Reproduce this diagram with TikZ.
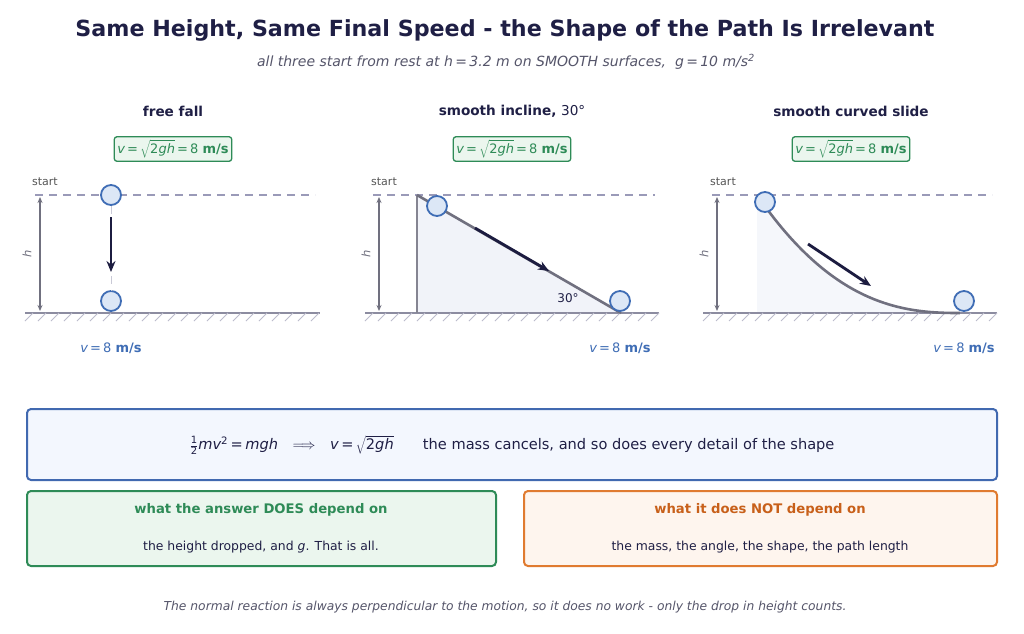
\documentclass[tikz,border=0pt]{standalone}
\usepackage{fontspec}
\setmainfont{DejaVu Sans}
\usetikzlibrary{arrows.meta}
\definecolor{titlec}{HTML}{1F1F45}
\definecolor{subc}{HTML}{55556A}
\definecolor{navy}{HTML}{1C1C40}
\definecolor{ballfill}{HTML}{DCE7F6}
\definecolor{ballline}{HTML}{3F6DB5}
\definecolor{groundc}{HTML}{8C8CA0}
\definecolor{hatchc}{HTML}{BCBCCC}
\definecolor{dashc}{HTML}{9A9AB8}
\definecolor{hc}{HTML}{70707F}
\definecolor{slopec}{HTML}{70707F}
\definecolor{inclfill}{HTML}{F1F3F9}
\definecolor{greenc}{HTML}{2E8B57}
\definecolor{greenfill}{HTML}{EBF6EE}
\definecolor{bluebox}{HTML}{4169B0}
\definecolor{bluefill}{HTML}{F3F7FE}
\definecolor{orangec}{HTML}{E07B30}
\definecolor{orangetxt}{HTML}{C8601A}
\definecolor{orangefill}{HTML}{FEF5EE}
\definecolor{vblue}{HTML}{3F6DB5}
\definecolor{graytxt}{HTML}{555555}
\tikzset{
  paneltitle/.style={font=\bfseries\fontsize{13.6}{16}\selectfont, text=titlec},
  fbox/.style={draw=greenc, fill=greenfill, line width=1.3pt, rounded corners=2.5pt, text=greenc, font=\fontsize{13}{15}\selectfont, inner sep=3pt, minimum height=24pt},
  dashln/.style={draw=dashc, line width=1.3pt, dash pattern=on 8pt off 6pt},
  startlbl/.style={font=\fontsize{11}{13}\selectfont, text=graytxt},
  groundln/.style={draw=groundc, line width=2pt},
  hatchln/.style={draw=hatchc, line width=1pt},
  harrow/.style={draw=hc, line width=1.4pt, {Stealth[length=6pt,width=5pt]}-{Stealth[length=6pt,width=5pt]}},
  hlbl/.style={font=\itshape\fontsize{11.5}{13}\selectfont, text=hc, rotate=90},
  ball/.style={circle, draw=ballline, fill=ballfill, line width=1.8pt, minimum size=20pt, inner sep=0pt},
  motion/.style={draw=navy, line width=2.8pt, -{Stealth[length=11pt,width=9pt]}},
  vlbl/.style={font=\fontsize{13}{15}\selectfont, text=vblue},
  faint/.style={draw=hatchc!80, line width=1pt, dash pattern=on 8pt off 6pt},
  bigbox/.style={rounded corners=4pt, line width=2pt},
}
\newcommand{\vform}{{\itshape v}\,=\,$\sqrt{\mbox{2\itshape gh}}$\,=\,8 \textbf{m/s}}
\newcommand{\vend}{{\itshape v}\,=\,8 \textbf{m/s}}
\newcommand{\halfdj}{$\frac{\mbox{\fontsize{10}{10}\selectfont 1}}{\mbox{\fontsize{10}{10}\selectfont 2}}$}
\begin{document}
\begin{tikzpicture}[x=1pt,y=-1pt]
\useasboundingbox (0,0) rectangle (1024,633);
\fill[white] (0,0) rectangle (1024,633);
\node[font=\bfseries\fontsize{22.2}{26}\selectfont, text=titlec] (title) at (505,30) {Same Height, Same Final Speed - the Shape of the Path Is Irrelevant};
\node[font=\itshape\fontsize{14}{16}\selectfont, text=subc] (sub) at (506,62) {all three start from rest at h\,=\,3.2 m on SMOOTH surfaces,\ \ g\,=\,10 m/s\textsuperscript{2}};

% panel 1
\begin{scope}[name prefix=a-]
\node[paneltitle] (t) at (173,111) {free fall};
\node[fbox] (f) at (173,149) {\vform};
\draw[dashln] (35,195) -- (315,195);
\node[startlbl] (st) at (45,182) {start};
\draw[groundln] (25,313) -- (320,313);
\foreach \i in {0,...,22} {\draw[hatchln] ({33+13*\i},313) -- ({25+13*\i},321);}
\coordinate (ht) at (40,197); \coordinate (hb) at (40,311);
\draw[harrow] (ht) -- (hb);
\node[hlbl] (hl) at (27,254) {h};
\node[ball] (b1) at (111,195) {};
\node[ball] (b2) at (111,301) {};
\draw[faint] (b1) -- (b2);
\coordinate (m1) at (111,217); \coordinate (m2) at (111,272);
\fill[white] (104,215) rectangle (118,276);
\draw[motion] (m1) -- (m2);
\node[vlbl] (v) at (111,348) {\vend};
\end{scope}

% panel 2
\begin{scope}[xshift=339pt, name prefix=b-]
\node[paneltitle] (t) at (173,111) {smooth incline, {\mdseries 30°}};
\node[fbox] (f) at (173,149) {\vform};
\coordinate (top) at (78,195); \coordinate (foot) at (78,313); \coordinate (end) at (282,313);
\fill[inclfill] (top) -- (foot) -- (end) -- cycle;
\draw[dashln] (34,195) -- (316,195);
\node[startlbl] (st) at (45,182) {start};
\draw[groundln] (26,313) -- (320,313);
\foreach \i in {0,...,22} {\draw[hatchln] ({34+13*\i},313) -- ({26+13*\i},321);}
\draw[draw=slopec!85, line width=1.5pt] (top) -- (foot);
\draw[draw=slopec, line width=2.6pt] (top) -- (end);
\coordinate (ht) at (40,197); \coordinate (hb) at (40,311);
\draw[harrow] (ht) -- (hb);
\node[hlbl] (hl) at (27,254) {h};
\node[ball] (b1) at (98,206) {};
\node[ball] (b2) at (281,301) {};
\coordinate (m1) at (136,228); \coordinate (m2) at (210,271);
\draw[motion] (m1) -- (m2);
\node[font=\fontsize{12}{14}\selectfont, text=titlec] (ang) at (229,298) {30°};
\node[vlbl] (v) at (281,348) {\vend};
\end{scope}

% panel 3
\begin{scope}[xshift=678pt, name prefix=c-]
\node[paneltitle] (t) at (173,111) {smooth curved slide};
\node[fbox] (f) at (173,149) {\vform};
\coordinate (top) at (79,195); \coordinate (foot) at (79,313); \coordinate (end) at (282,313);
\fill[inclfill!70] plot[domain=0:1, samples=50, smooth] ({79+203*\x},{313-118*(1-\x)*(1-\x)*sqrt(1-\x)}) -- (foot) -- cycle;
\draw[dashln] (34,195) -- (314,195);
\node[startlbl] (st) at (45,182) {start};
\draw[groundln] (25,313) -- (319,313);
\foreach \i in {0,...,22} {\draw[hatchln] ({33+13*\i},313) -- ({25+13*\i},321);}
\draw[draw=slopec, line width=2.6pt] plot[domain=0:1, samples=50, smooth] ({79+203*\x},{313-118*(1-\x)*(1-\x)*sqrt(1-\x)});
\coordinate (ht) at (39,197); \coordinate (hb) at (39,311);
\draw[harrow] (ht) -- (hb);
\node[hlbl] (hl) at (26,254) {h};
\node[ball] (b1) at (87,202) {};
\node[ball] (b2) at (286,301) {};
\coordinate (m1) at (130,244); \coordinate (m2) at (193,286);
\draw[motion] (m1) -- (m2);
\node[vlbl] (v) at (286,348) {\vend};
\end{scope}

% bottom boxes
\draw[bigbox, draw=bluebox, fill=bluefill] (27,409) rectangle (997,480);
\node[font=\fontsize{14.6}{17}\selectfont, text=titlec] (eq) at (512,445) {\halfdj{\itshape mv}\textsuperscript{2}\,=\,{\itshape mgh}\quad$\Longrightarrow$\quad{\itshape v}\,=\,$\sqrt{\mbox{2\itshape gh}}$\qquad the mass cancels, and so does every detail of the shape};

\draw[bigbox, draw=greenc, fill=greenfill] (27,491) rectangle (496,566);
\node[font=\bfseries\fontsize{13.2}{15}\selectfont, text=greenc] (gt) at (261,510) {what the answer DOES depend on};
\node[font=\fontsize{12.4}{15}\selectfont, text=titlec] (gb) at (261,547) {the height dropped, and {\itshape g}. That is all.};

\draw[bigbox, draw=orangec, fill=orangefill] (524,491) rectangle (997,566);
\node[font=\bfseries\fontsize{13.2}{15}\selectfont, text=orangetxt] (ot) at (760,510) {what it does NOT depend on};
\node[font=\fontsize{12.4}{15}\selectfont, text=titlec] (ob) at (760,547) {the mass, the angle, the shape, the path length};

\node[font=\itshape\fontsize{12.3}{15}\selectfont, text=subc] (foot) at (505,607) {The normal reaction is always perpendicular to the motion, so it does no work - only the drop in height counts.};
\end{tikzpicture}
\end{document}
